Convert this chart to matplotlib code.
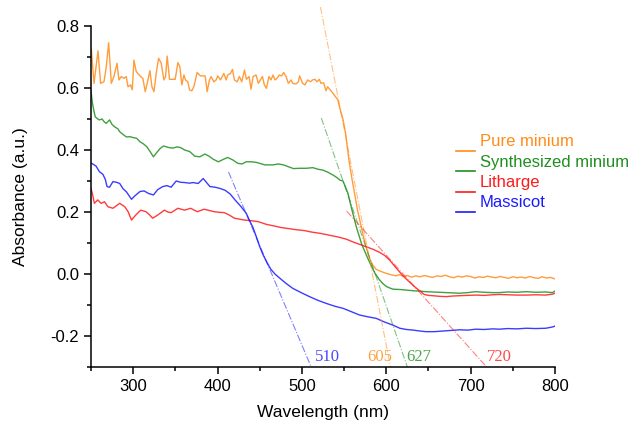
import matplotlib
matplotlib.use("Agg")
import matplotlib.pyplot as plt
from matplotlib.ticker import MultipleLocator

plt.rcParams['font.family'] = ['Liberation Sans', 'DejaVu Sans']

# Pure minium
wl_pure = [250.4, 253.6, 258.3, 261.4, 265.4, 268.1, 270.9, 274.1, 277.2, 280.8, 283.1, 285.9, 289.1,
           291.8, 293.8, 296.9, 298.9, 300.9, 303.6, 308.8, 311.5, 314.3, 317.5, 319.8, 322.2, 324.6,
           327.3, 330.1, 333.2, 336.4, 338.4, 340.3, 343.1, 349.8, 353.0, 355.3, 357.7, 360.1, 362.0,
           364.8, 366.8, 369.5, 371.9, 375.8, 379.8, 385.3, 387.7, 390.4, 392.4, 395.6, 398.3, 400.3,
           403.5, 407.4, 410.2, 412.1, 415.3, 417.7, 420.0, 423.2, 425.9, 428.7, 431.9, 434.2, 437.4,
           439.7, 442.1, 445.7, 448.4, 450.8, 453.2, 455.5, 457.9, 461.0, 463.4, 465.8, 468.1, 470.5,
           473.3, 476.0, 478.4, 481.2, 483.9, 487.1, 489.1, 493.0, 495.8, 497.3, 500.9, 503.6, 506.8,
           510.0, 512.7, 515.5, 517.9, 520.6, 522.6, 525.7, 528.5, 530.5, 536.8, 542.7, 545.5, 548.6,
           551.8, 555.7, 559.0, 562.4, 566.0, 570.3, 574.0, 578.2, 581.0, 584.1, 588.1, 592.0, 596.0,
           600.0, 605.0, 611.8, 615.7, 620, 625, 630, 635, 640, 645, 650, 655, 660, 665, 670, 675, 680,
           685, 690, 695, 700, 705, 710, 715, 720, 725, 730, 735, 740, 745, 750, 755, 760, 765, 770,
           775, 780, 785, 790, 795, 800]
abs_pure = [0.723, 0.615, 0.720, 0.615, 0.620, 0.669, 0.746, 0.615, 0.637, 0.680, 0.626, 0.637, 0.631,
            0.637, 0.604, 0.610, 0.594, 0.690, 0.653, 0.637, 0.631, 0.588, 0.626, 0.656, 0.604, 0.588,
            0.647, 0.696, 0.680, 0.626, 0.637, 0.703, 0.628, 0.628, 0.682, 0.669, 0.610, 0.642, 0.626,
            0.620, 0.594, 0.591, 0.604, 0.650, 0.639, 0.639, 0.588, 0.626, 0.637, 0.620, 0.626, 0.639,
            0.626, 0.647, 0.626, 0.642, 0.647, 0.660, 0.626, 0.620, 0.637, 0.620, 0.658, 0.628, 0.637,
            0.596, 0.637, 0.642, 0.615, 0.626, 0.637, 0.610, 0.599, 0.637, 0.626, 0.642, 0.626, 0.631,
            0.642, 0.639, 0.650, 0.637, 0.615, 0.626, 0.615, 0.613, 0.620, 0.639, 0.615, 0.610, 0.626,
            0.620, 0.626, 0.628, 0.620, 0.628, 0.615, 0.617, 0.591, 0.604, 0.583, 0.561, 0.529, 0.500,
            0.454, 0.368, 0.312, 0.260, 0.205, 0.153, 0.108, 0.067, 0.045, 0.028, 0.015, 0.010, 0.006,
            0.002, -0.002, -0.006, -0.002, -0.008, -0.005, -0.010, -0.006, -0.009, -0.005, -0.008,
            -0.011, -0.006, -0.008, -0.004, -0.009, -0.012, -0.007, -0.010, -0.006, -0.008, -0.013,
            -0.009, -0.011, -0.007, -0.010, -0.012, -0.008, -0.011, -0.014, -0.009, -0.012, -0.010,
            -0.013, -0.008, -0.012, -0.014, -0.009, -0.013, -0.011, -0.016]

# Synthesized minium
wl_syn = [250, 251, 252.4, 255, 258, 260, 263, 266, 268, 272, 275, 278, 282, 284, 288, 292, 296, 300,
          304, 308, 312, 316, 320, 324, 328, 332, 336, 342, 347, 352, 356, 361, 367, 373, 379, 385,
          390, 395, 401, 407, 412, 418, 424, 429, 434, 440, 446, 451, 456, 461, 466, 472, 478, 484,
          490, 497, 505, 513, 519, 525, 531, 537, 541, 545, 548.6, 551, 554.6, 559, 564.4, 571, 579,
          586, 592, 596, 600, 604, 608, 616, 624, 632, 639, 647, 655, 663, 671, 679, 687, 697, 706,
          716, 726, 734, 744, 755, 766, 777, 789, 797, 800]
abs_syn = [0.594, 0.565, 0.540, 0.507, 0.500, 0.497, 0.500, 0.490, 0.486, 0.497, 0.482, 0.475, 0.468,
           0.459, 0.450, 0.442, 0.443, 0.440, 0.438, 0.427, 0.420, 0.411, 0.395, 0.378, 0.392, 0.405,
           0.413, 0.408, 0.406, 0.410, 0.408, 0.400, 0.395, 0.380, 0.378, 0.387, 0.380, 0.370, 0.362,
           0.370, 0.376, 0.368, 0.357, 0.355, 0.362, 0.362, 0.360, 0.356, 0.352, 0.352, 0.352, 0.355,
           0.352, 0.346, 0.340, 0.341, 0.341, 0.343, 0.338, 0.335, 0.328, 0.319, 0.312, 0.303, 0.300,
           0.285, 0.260, 0.210, 0.153, 0.095, 0.045, 0.005, -0.019, -0.031, -0.040, -0.045, -0.049,
           -0.050, -0.052, -0.054, -0.055, -0.057, -0.058, -0.059, -0.060, -0.061, -0.062, -0.060,
           -0.057, -0.059, -0.060, -0.060, -0.058, -0.059, -0.057, -0.059, -0.058, -0.060, -0.055]

# Litharge
wl_lit = [250, 252, 254, 258, 262, 266, 270, 276, 280, 284, 290, 294, 298, 303, 309, 315, 319, 323,
          329, 337, 341, 345, 353, 361, 368, 376, 384, 390, 396, 402, 408, 414, 420, 432, 440, 448,
          458, 467, 475, 483, 493, 503, 512, 522, 533, 545, 553, 560, 568, 576, 584, 592, 598, 604,
          610, 616, 622, 628, 634, 640, 645, 650, 655, 663, 671, 679, 687, 696, 706, 716, 726, 734,
          744, 755, 766, 777, 789, 797, 800]
abs_lit = [0.276, 0.255, 0.228, 0.239, 0.228, 0.233, 0.217, 0.212, 0.220, 0.228, 0.217, 0.201, 0.174,
           0.190, 0.206, 0.201, 0.192, 0.180, 0.190, 0.206, 0.200, 0.198, 0.212, 0.206, 0.212, 0.201,
           0.209, 0.205, 0.201, 0.199, 0.198, 0.190, 0.180, 0.174, 0.172, 0.169, 0.160, 0.155, 0.150,
           0.147, 0.143, 0.140, 0.135, 0.131, 0.125, 0.118, 0.112, 0.104, 0.096, 0.088, 0.080, 0.070,
           0.060, 0.045, 0.025, 0.006, -0.012, -0.027, -0.042, -0.055, -0.066, -0.069, -0.070, -0.072,
           -0.073, -0.071, -0.070, -0.069, -0.068, -0.069, -0.067, -0.066, -0.067, -0.068, -0.068,
           -0.067, -0.068, -0.065, -0.062]

# Massicot
wl_mas = [250.8, 256, 260, 264, 267, 269, 272, 276, 280, 284, 288, 292, 298, 302, 308, 313, 318, 324,
          329, 335, 340, 345, 351, 356, 361, 367, 371, 377, 383, 387, 391, 397, 403, 409, 415, 421,
          427, 434, 438, 442, 446, 450, 454, 458, 463, 468, 474, 481, 489, 499, 509, 519, 529, 539,
          549, 559, 568, 578, 588, 598, 608, 616, 624, 632, 640, 647, 657, 667, 677, 687, 697, 706,
          716, 726, 734, 744, 755, 766, 777, 789, 797, 800]
abs_mas = [0.357, 0.348, 0.330, 0.322, 0.305, 0.282, 0.280, 0.298, 0.296, 0.292, 0.275, 0.265, 0.241,
           0.252, 0.266, 0.268, 0.260, 0.255, 0.272, 0.282, 0.285, 0.280, 0.300, 0.296, 0.295, 0.293,
           0.295, 0.292, 0.308, 0.295, 0.282, 0.280, 0.276, 0.270, 0.258, 0.238, 0.220, 0.196, 0.172,
           0.150, 0.120, 0.088, 0.062, 0.040, 0.016, 0.000, -0.014, -0.030, -0.046, -0.060, -0.073,
           -0.085, -0.095, -0.104, -0.111, -0.122, -0.132, -0.138, -0.143, -0.155, -0.165, -0.175,
           -0.179, -0.181, -0.184, -0.186, -0.186, -0.184, -0.182, -0.180, -0.181, -0.178, -0.179,
           -0.177, -0.178, -0.176, -0.177, -0.175, -0.176, -0.175, -0.171, -0.168]

names = ['Pure minium', 'Synthesized minium', 'Litharge', 'Massicot']
colors = ['#ff8c1a', '#1f8f1f', '#ff1a1a', '#1a1aff']

# tangent lines (start point, band-gap intercept at y=-0.3)
tan_x = [[522, 605], [523, 625], [553, 719], [413, 511]]
tan_y = [[0.861, -0.3], [0.503, -0.3], [0.203, -0.3], [0.329, -0.3]]
gap_labels = ['605', '627', '720', '510']
label_x = [578, 624, 719, 515]

fig = plt.figure(figsize=(6.34, 4.33), dpi=100)
ax = fig.add_axes([91 / 634, 66 / 433, 464 / 634, 341 / 433])

series = [(wl_pure, abs_pure), (wl_syn, abs_syn), (wl_lit, abs_lit), (wl_mas, abs_mas)]
for (x, y), c in zip(series, colors):
    ax.plot(x, y, color=c, lw=1.0, alpha=0.85)

for tx, ty, c, lab, lx in zip(tan_x, tan_y, colors, gap_labels, label_x):
    ax.plot(tx, ty, color=c, lw=0.8, ls='-.', alpha=0.55, clip_on=False)
    ax.text(lx, -0.268, lab, color=c, fontsize=12, family=['Liberation Serif'],
            ha='left', va='center', alpha=0.8)

# legend, drawn by hand so the short lines sit at the text baseline
for i, (name, c) in enumerate(zip(names, colors)):
    ty = 0.660 - i * 0.0595
    ax.plot([0.787, 0.828], [ty - 0.027, ty - 0.027], color=c, lw=1.2,
            transform=ax.transAxes, clip_on=False)
    ax.text(0.838, ty, name, color=c, fontsize=12, transform=ax.transAxes,
            ha='left', va='center')

ax.set_xlim(250, 800)
ax.set_ylim(-0.3, 0.8)
ax.xaxis.set_major_locator(MultipleLocator(100))
ax.xaxis.set_minor_locator(MultipleLocator(50))
ax.yaxis.set_major_locator(MultipleLocator(0.2))
ax.yaxis.set_minor_locator(MultipleLocator(0.1))
ax.set_yticks([-0.2, 0.0, 0.2, 0.4, 0.6, 0.8])
ax.set_yticklabels(['-0.2', '0.0', '0.2', '0.4', '0.6', '0.8'])

for s in ['top', 'right']:
    ax.spines[s].set_visible(False)
for s in ['left', 'bottom']:
    ax.spines[s].set_linewidth(1.1)
ax.tick_params(which='major', direction='out', length=5, width=1.1, labelsize=12)
ax.tick_params(which='minor', direction='out', length=3, width=1.1)

ax.set_xlabel('Wavelength (nm)', fontsize=12.5, labelpad=8)
ax.set_ylabel('Absorbance (a.u.)', fontsize=12.5, labelpad=16)

fig.savefig('out.png', dpi=100)
